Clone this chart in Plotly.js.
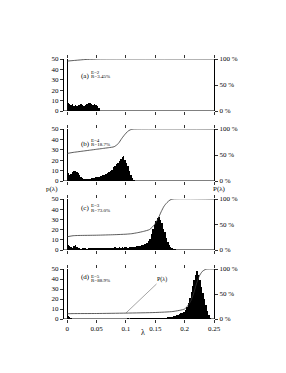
<!DOCTYPE html>
<html><head><meta charset="utf-8">
<script src="https://cdn.plot.ly/plotly-3.0.1.min.js"></script>
<style>html,body{margin:0;padding:0;background:#fff}#c{width:286px;height:373px}</style>
</head><body><div id="c"></div>
<script>
// histogram bin width (lambda)
const binWidth = 0.0025;
// p(lambda) histograms, one value per bin starting at lambda = 0
const histA = [8,7,6,7,5,6,5,6,6,7,6,5,6,7,8,8,7,6,7,6,5,3];
const histB = [8,6,7,9,10,10,9,8,6,4,3,2,2,2,2,2,3,3,3,4,4,4,5,5,6,6,7,8,9,10,11,13,14,16,17,19,21,23,24,20,17,14,10,6,3,1];
const histC = [5,4,3,2,4,5,3,2,1.5,1,1.5,2,1.5,1,1.5,1.5,2,1.5,1.5,2,1.5,2,1.5,2,2,1.5,2,2,1.5,2,2,2,2.5,2,2,2.5,2,2.5,2,2.5,2.5,2,2.5,2.5,3,3,3,3.5,4,4,4.5,5,5.5,6,7,9,11,16,21,25,28,31,32,29,26,21,18,12,8,5,3,2,1,0.5];
const histD = [3,2,1,0.5,0.4,0.3,0.4,0.3,0.3,0.4,0.3,0.3,0.4,0.3,0.3,0.4,0.3,0.3,0.4,0.3,0.4,0.3,0.4,0.3,0.4,0.3,0.4,0.4,0.3,0.4,0.4,0.4,0.5,0.4,0.4,0.5,0.4,0.5,0.5,0.5,0.5,0.6,0.5,0.6,0.6,0.7,0.6,0.7,0.7,0.8,0.7,0.8,0.8,0.8,0.9,0.8,0.9,1,0.9,1,1,1.2,1.1,1.3,1.2,1.4,1.5,1.5,2,2,2.5,2.5,3,3.5,4,4.5,5,6,6.5,7.5,9,12,16,21,27,33,39,44,48,44,39,32,26,20,14,8,4,1];
// cumulative P(lambda), percent
const cumLamA = [0,0.01,0.02,0.03,0.04,0.05,0.052,0.25];
const cumA    = [96,97,98,99,99.5,99.8,100,100];
const cumLamB = [0,0.01,0.02,0.03,0.04,0.05,0.06,0.07,0.08,0.087,0.093,0.1,0.105,0.11,0.115,0.25];
const cumB    = [53,55,56.5,58,59.5,61,62.5,64,66,72,82,92,97,99.5,100,100];
const cumLamC = [0,0.01,0.02,0.05,0.08,0.1,0.11,0.12,0.13,0.14,0.145,0.15,0.155,0.16,0.165,0.17,0.175,0.18,0.25];
const cumC    = [26,28,28.5,29,30,31,32,34,36.5,40,45,52,62,75,86,93,98,100,100];
const cumLamD = [0,0.01,0.05,0.1,0.15,0.18,0.2,0.205,0.21,0.215,0.22,0.225,0.23,0.235,0.238,0.25];
const cumD    = [10.5,10.8,11,11.8,13,15,20,26,35,50,70,86,95,99,100,100];
// panel texts
const panelTags = ['(a)','(b)','(c)','(d)'];
const eTexts = ['E=2','E=4','E=3','E=5'];
const rTexts = ['R=3.45%','R=18.7%','R=73.0%','R=88.9%'];
const xTickVals = [0,0.05,0.1,0.15,0.2,0.25];
const xTickText = ['0','0.05','0.1','0.15','0.2','0.25'];
const leftTicks = [0,10,20,30,40,50];
const rightTickVals = [0,50,100];
const rightTickText = ['0 %','50 %','100 %'];

const hists = [histA,histB,histC,histD];
const cumX = [cumLamA,cumLamB,cumLamC,cumLamD];
const cumY = [cumA,cumB,cumC,cumD];

// layout geometry (pixels)
const L = 64, R = 72, T = 59, B = 54, W = 286, H = 373;
const PW = W - L - R, PH = H - T - B;
const panelPx = [[59,111],[129,181],[199,250],[269,319]]; // top,bottom
const fy = py => (H - B - py) / PH;
const fx = px => (px - L) / PW;
const labelY = [[70,67.7,72.3],[138.3,135.7,140.3],[208,205.7,210.3],[283,280.7,285.3]];

const font = 'Liberation Serif, Times New Roman, serif';
const ink = '#000';
const data = [];
const layout = {
  width: W, height: H, margin: {l:L, r:R, t:T, b:B, pad:0},
  paper_bgcolor:'#fff', plot_bgcolor:'#fff', showlegend:false,
  bargap:0, font:{family:font, size:7, color:ink},
  shapes:[], annotations:[]
};
for (let k = 0; k < 4; k++) {
  const n = k + 1, xa = 'x' + n, yl = 'y' + n, yr = 'y' + (n + 4);
  const h = hists[k];
  data.push({type:'bar', x:h.map((_, i) => (i + 0.5) * binWidth), y:h, width:binWidth,
    xaxis:xa, yaxis:yl, marker:{color:'#000', line:{width:0}}, hoverinfo:'skip'});
  data.push({type:'scatter', mode:'lines', x:cumX[k], y:cumY[k], xaxis:xa, yaxis:yr,
    line:{color:'#333', width:0.8, shape:'spline', smoothing:0.6}, hoverinfo:'skip'});
  const dom = [fy(panelPx[k][1]), fy(panelPx[k][0])];
  layout['xaxis' + (n === 1 ? '' : n)] = {
    domain:[0,1], anchor:yl, range:[-0.0055,0.25], showgrid:false, showline:false,
    zeroline:true, zerolinecolor:'#000', zerolinewidth:1,
    ticks:'outside', ticklen:3, tickwidth:0.8, tickcolor:'#000', mirror:'ticks',
    tickvals:xTickVals, ticktext:xTickText, showticklabels:k === 3,
    tickfont:{family:font, size:7, color:ink}
  };
  layout['yaxis' + (n === 1 ? '' : n)] = {
    domain:dom, anchor:xa, range:[0,50], showgrid:false, zeroline:false,
    showline:true, linecolor:'#000', linewidth:1, ticks:'outside', ticklen:3, tickwidth:0.8,
    tickcolor:'#000', tickvals:leftTicks, tickfont:{family:font, size:7, color:ink}
  };
  layout['yaxis' + (n + 4)] = {
    overlaying:yl, side:'right', anchor:xa, range:[0,100], showgrid:false, zeroline:false,
    showline:true, linecolor:'#000', linewidth:1, ticks:'outside', ticklen:3, tickwidth:0.8,
    tickcolor:'#000', tickvals:rightTickVals, ticktext:rightTickText,
    tickfont:{family:font, size:7, color:ink}
  };
  layout.shapes.push({type:'line', xref:xa + ' domain', x0:0, x1:1, yref:yl, y0:0, y1:0,
    line:{color:'#000', width:1}});
  layout.annotations.push({xref:'paper', yref:'paper', x:fx(79), y:fy(labelY[k][0]),
    text:panelTags[k], showarrow:false, font:{family:font, size:7, color:ink}});
  layout.annotations.push({xref:'paper', yref:'paper', x:fx(89), y:fy(labelY[k][1]), xanchor:'left',
    text:eTexts[k], showarrow:false, font:{family:font, size:5, color:ink}});
  layout.annotations.push({xref:'paper', yref:'paper', x:fx(89), y:fy(labelY[k][2]), xanchor:'left',
    text:rTexts[k], showarrow:false, font:{family:font, size:5, color:ink}});
}
layout.annotations.push({xref:'x4', yref:'y8', x:0.1, y:12, axref:'x4', ayref:'y8', ax:0.161, ay:80,
  text:'P(λ)', showarrow:true, arrowhead:0, arrowwidth:0.6, arrowcolor:'#666',
  font:{family:font, size:6, color:ink}});
layout.annotations.push({xref:'paper', yref:'paper', x:fx(44), y:fy(189), text:'p(λ)',
  showarrow:false, font:{family:font, size:7, color:ink}});
layout.annotations.push({xref:'paper', yref:'paper', x:fx(228), y:fy(189), text:'P(λ)',
  showarrow:false, font:{family:font, size:7, color:ink}});
layout.annotations.push({xref:'paper', yref:'paper', x:fx(143), y:fy(339), text:'λ',
  showarrow:false, font:{family:font, size:8, color:ink}});

Plotly.newPlot('c', data, layout, {staticPlot:true, displayModeBar:false});
</script></body></html>
